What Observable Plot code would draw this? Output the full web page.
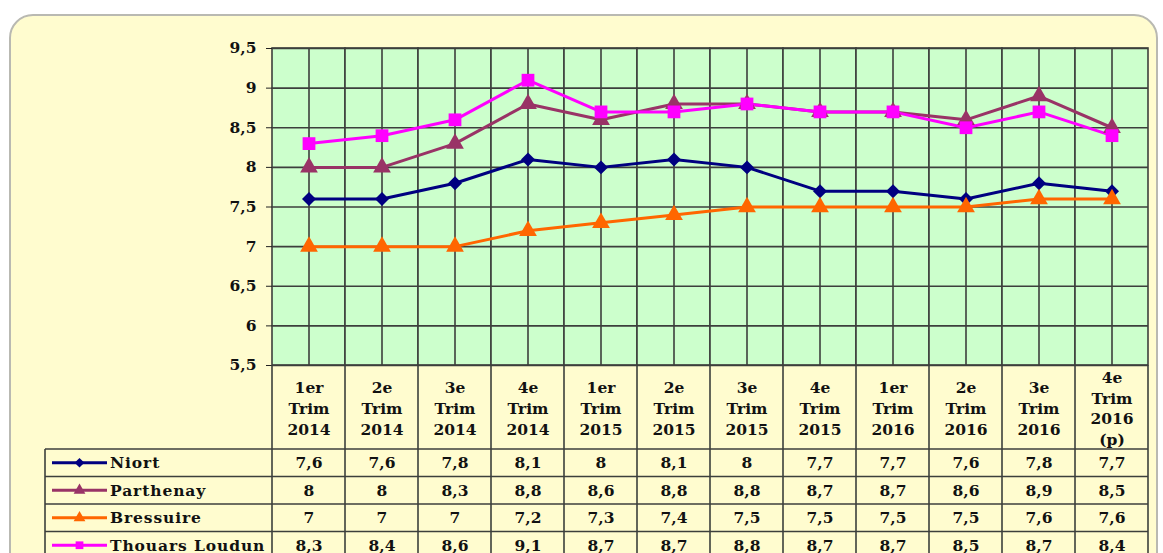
<!DOCTYPE html>
<html><head><meta charset="utf-8">
<script src="https://cdn.jsdelivr.net/npm/d3@7"></script>
<script src="https://cdn.jsdelivr.net/npm/@observablehq/plot@0.6"></script>
<style>
html,body{margin:0;padding:0;background:#fff;width:1163px;height:553px;overflow:hidden;}
#wrap{position:relative;width:1163px;height:553px;}
#box{position:absolute;left:9px;top:14px;width:1149px;height:620px;background:#fffccf;border:2px solid #b9b9b2;border-radius:24px;box-sizing:border-box;}
#chart{position:absolute;left:0;top:0;}
</style></head><body>
<div id="wrap"><div id="box"></div><div id="chart"></div></div>
<script>
// ---- data ----
const quarters = ["1er Trim 2014","2e Trim 2014","3e Trim 2014","4e Trim 2014",
  "1er Trim 2015","2e Trim 2015","3e Trim 2015","4e Trim 2015",
  "1er Trim 2016","2e Trim 2016","3e Trim 2016","4e Trim 2016 (p)"];
const niort     = [7.6,7.6,7.8,8.1,8,8.1,8,7.7,7.7,7.6,7.8,7.7];
const parthenay = [8,8,8.3,8.8,8.6,8.8,8.8,8.7,8.7,8.6,8.9,8.5];
const bressuire = [7,7,7,7.2,7.3,7.4,7.5,7.5,7.5,7.5,7.6,7.6];
const thouars   = [8.3,8.4,8.6,9.1,8.7,8.7,8.8,8.7,8.7,8.5,8.7,8.4];
const seriesNames  = ["Niort","Parthenay","Bressuire","Thouars Loudun"];
const seriesValues = [niort, parthenay, bressuire, thouars];
const seriesColors = ["#000080","#993366","#ff6600","#ff00ff"];
const seriesSymbols = ["diamond2","triangle","triangle","square"];
const seriesR = [6.3,6.6,6.6,7.2];
const yTicks = [5.5,6,6.5,7,7.5,8,8.5,9,9.5];
const yDomain = [5.5,9.5];

// ---- layout ----
const W = 1163, H = 553;
const headerH = 84, rowH = 27.5, tableLeft = 45;
const FONT = "DejaVu Serif";
const fmt = d => String(d).replace(".", ",");
const gridColor = "#3c3f3c";
const textColor = "#111";

const marks = [
  Plot.barY(quarters, {x: d => d, y1: yDomain[0], y2: yDomain[1], fill: "#ccffcc", stroke: gridColor, strokeWidth: 1.6, inset: 0}),
  Plot.ruleY(yTicks, {y: d => d, stroke: gridColor, strokeWidth: 1.6}),
  Plot.ruleX(quarters, {x: d => d, y1: yDomain[0], y2: yDomain[1], stroke: gridColor, strokeWidth: 1.6}),
  Plot.axisY({ticks: yTicks, tickFormat: fmt, tickSize: 6, tickPadding: 10, fontSize: 15.5, stroke: "#222"}),
];
seriesValues.forEach((vals, i) => {
  marks.push(Plot.line(vals, {x: (d, j) => quarters[j], y: d => d, stroke: seriesColors[i], strokeWidth: 3}));
});
seriesValues.forEach((vals, i) => {
  marks.push(Plot.dot(vals, {x: (d, j) => quarters[j], y: d => d, fill: seriesColors[i], symbol: seriesSymbols[i], r: seriesR[i]}));
});
// header labels
marks.push(Plot.text(quarters, {x: d => d, text: d => d.replace(/ /g, "\n"), frameAnchor: "bottom", lineAnchor: "middle", dy: headerH / 2, lineHeight: 1.33, fontSize: 15.5, fill: textColor}));
// table values
seriesValues.forEach((vals, i) => {
  marks.push(Plot.text(vals, {x: (d, j) => quarters[j], text: fmt, frameAnchor: "bottom", lineAnchor: "middle", dy: headerH + rowH * (i + 0.5), fontSize: 15.5, fill: textColor}));
});

const plot = Plot.plot({
  width: W, height: H,
  marginLeft: 272, marginRight: 15, marginTop: 48, marginBottom: 188,
  style: {background: "transparent", fontFamily: FONT, fontWeight: "bold", fontSize: "15.5px", color: textColor, overflow: "visible"},
  x: {type: "band", domain: quarters, padding: 0, axis: null},
  y: {domain: yDomain, axis: null},
  marks
});
document.getElementById("chart").appendChild(plot);

// ---- data table grid & legend keys (positions from Plot's scales) ----
const xs = plot.scale("x"), ys = plot.scale("y");
const svg = d3.select(plot);
const g = svg.append("g").attr("class", "table");
const frameBottom = ys.apply(yDomain[0]);
const rowsTop = frameBottom + headerH;
const tableBottom = rowsTop + rowH * (seriesNames.length + 0.3);
const xStarts = quarters.map(q => xs.apply(q));
const xEnd = xStarts[xStarts.length - 1] + xs.bandwidth;
[...xStarts, xEnd].forEach(x => {
  g.append("line").attr("x1", x).attr("x2", x).attr("y1", frameBottom).attr("y2", tableBottom)
    .attr("stroke", gridColor).attr("stroke-width", 1.6);
});
g.append("line").attr("x1", tableLeft).attr("x2", tableLeft).attr("y1", rowsTop).attr("y2", tableBottom)
  .attr("stroke", gridColor).attr("stroke-width", 1.6);
for (let k = 0; k <= seriesNames.length; k++) {
  const y = rowsTop + k * rowH;
  g.append("line").attr("x1", tableLeft).attr("x2", xEnd).attr("y1", y).attr("y2", y)
    .attr("stroke", gridColor).attr("stroke-width", 1.6);
}
const symbolMap = {diamond2: d3.symbolDiamond2, triangle: d3.symbolTriangle, square: d3.symbolSquare};
seriesNames.forEach((name, i) => {
  const cy = rowsTop + rowH * (i + 0.5);
  const x0 = tableLeft + 7, x1 = tableLeft + 62, cx = (x0 + x1) / 2;
  g.append("line").attr("x1", x0).attr("x2", x1).attr("y1", cy).attr("y2", cy)
    .attr("stroke", seriesColors[i]).attr("stroke-width", 3);
  g.append("path").attr("transform", `translate(${cx},${cy})`)
    .attr("d", d3.symbol(symbolMap[seriesSymbols[i]], 60)())
    .attr("fill", seriesColors[i]);
  g.append("text").attr("x", x1 + 3).attr("y", cy).attr("dy", "0.35em")
    .attr("text-anchor", "start").attr("letter-spacing", "0.9px")
    .attr("font-family", FONT).attr("font-weight", "bold").attr("font-size", 15.5)
    .attr("fill", textColor).text(name);
});
</script>
</body></html>
